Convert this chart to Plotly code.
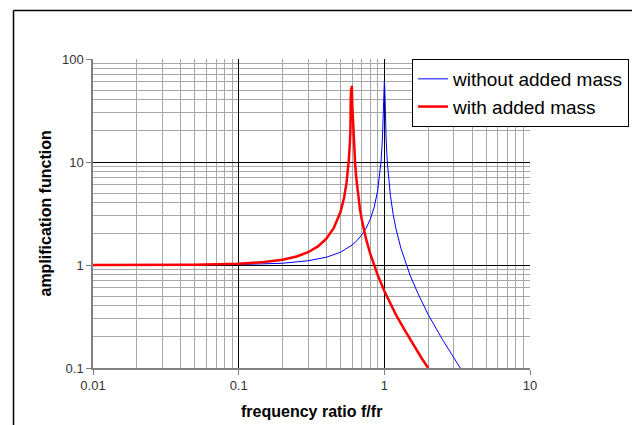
import plotly.graph_objects as go

# Values
freq_without = [0.01, 0.05, 0.1, 0.2, 0.3, 0.4, 0.5, 0.6, 0.65, 0.7, 0.75, 0.8, 0.85, 0.9, 0.93,
                0.95, 0.97, 0.98, 0.99, 0.995, 1.0, 1.005, 1.01, 1.02, 1.03, 1.05, 1.07, 1.1,
                1.15, 1.2, 1.3, 1.4, 1.5, 1.7, 2.0, 2.5, 3.0, 3.32]
amp_without = [1.0, 1.0, 1.01, 1.04, 1.1, 1.19, 1.33, 1.56, 1.73, 1.96, 2.28, 2.77, 3.6, 5.26, 7.4,
               10.2, 16.8, 25, 45, 55, 60, 55, 45, 24, 16, 9.7, 6.9, 4.76,
               3.1, 2.27, 1.45, 1.04, 0.8, 0.53, 0.33, 0.19, 0.125, 0.1]

freq_with = [0.01, 0.05, 0.1, 0.15, 0.2, 0.25, 0.3, 0.35, 0.4, 0.45, 0.5, 0.53, 0.55, 0.56,
             0.57, 0.58, 0.585, 0.588, 0.592, 0.595, 0.598, 0.603, 0.607, 0.612, 0.62, 0.63,
             0.64, 0.66, 0.68, 0.7, 0.75, 0.8, 0.9, 1.0, 1.1, 1.2, 1.4, 1.6, 1.8, 2.0]
amp_with = [1.0, 1.007, 1.029, 1.067, 1.125, 1.21, 1.33, 1.515, 1.8, 2.29, 3.27, 4.55, 6.26, 7.76,
            10.3, 15.2, 20, 40, 52, 33, 55, 35, 28, 19, 15, 9.76,
            7.26, 4.76, 3.5, 2.77, 1.78, 1.29, 0.8, 0.56, 0.42, 0.33, 0.225, 0.164, 0.125, 0.1]

x_major = [0.01, 0.1, 1, 10]
x_labels = ["0.01", "0.1", "1", "10"]
y_major = [0.1, 1, 10, 100]
y_labels = ["0.1", "1", "10", "100"]

x_minor = [m * d for d in [0.01, 0.1, 1] for m in range(2, 10)]
y_minor = [m * d for d in [0.1, 1, 10] for m in range(2, 10)]

FONT = "Liberation Sans, Arial, sans-serif"

fig = go.Figure()
fig.add_trace(go.Scatter(x=freq_without, y=amp_without, mode="lines",
                         name="without added mass",
                         line=dict(color="#0000ff", width=1)))
fig.add_trace(go.Scatter(x=freq_with, y=amp_with, mode="lines",
                         name="with added mass",
                         line=dict(color="#ff0000", width=2.5)))

L, R, T, B = 93, 102, 59, 57
W, H = 632, 425
pw, ph = W - L - R, H - T - B

fig.update_layout(
    width=W, height=H,
    margin=dict(l=L, r=R, t=T, b=B, pad=0, autoexpand=False),
    paper_bgcolor="white", plot_bgcolor="white",
    font=dict(family=FONT, color="#333333", size=13),
    showlegend=True,
    legend=dict(x=(412 - L) / pw, y=1, xanchor="left", yanchor="top",
                bordercolor="black", borderwidth=1, bgcolor="white",
                font=dict(size=19, color="black", family=FONT),
                itemwidth=30, tracegroupgap=0),
    xaxis=dict(type="log", range=[-2, 1], tickvals=x_major, ticktext=x_labels,
               showgrid=True, gridcolor="black", gridwidth=1,
               ticks="outside", ticklen=5, tickcolor="#808080",
               showline=True, linecolor="#808080", linewidth=1.5,
               zeroline=False,
               minor=dict(tickvals=x_minor, showgrid=True, gridcolor="#a8a8a8",
                          gridwidth=1, ticks=""),
               tickfont=dict(size=13, color="#333333")),
    yaxis=dict(type="log", range=[-1, 2], tickvals=y_major, ticktext=y_labels,
               showgrid=True, gridcolor="black", gridwidth=1,
               ticks="outside", ticklen=5, tickcolor="#808080",
               showline=True, linecolor="#808080", linewidth=1.5,
               zeroline=False,
               minor=dict(tickvals=y_minor, showgrid=True, gridcolor="#a8a8a8",
                          gridwidth=1, ticks=""),
               tickfont=dict(size=13, color="#333333")),
)

fig.add_annotation(text="<b>frequency ratio f/fr</b>", xref="paper", yref="paper",
                   x=0.5, y=(368 - 411) / ph, xanchor="center", yanchor="middle",
                   showarrow=False, font=dict(size=16, color="black", family=FONT))
fig.add_annotation(text="<b>amplification function</b>", xref="paper", yref="paper",
                   x=(45 - L) / pw, y=0.5, xanchor="center", yanchor="middle",
                   textangle=-90, showarrow=False,
                   font=dict(size=16, color="black", family=FONT))

# outer chart frame (left and top edges)
fx = (13.5 - L) / pw
fy = (368 - 10.5) / ph
fig.add_shape(type="line", xref="paper", yref="paper", x0=fx, x1=fx,
              y0=fy, y1=(368 - 430) / ph, line=dict(color="black", width=1.5))
fig.add_shape(type="line", xref="paper", yref="paper", x0=fx, x1=(640 - L) / pw,
              y0=fy, y1=fy, line=dict(color="black", width=1.5))

fig.write_html("out.html")
